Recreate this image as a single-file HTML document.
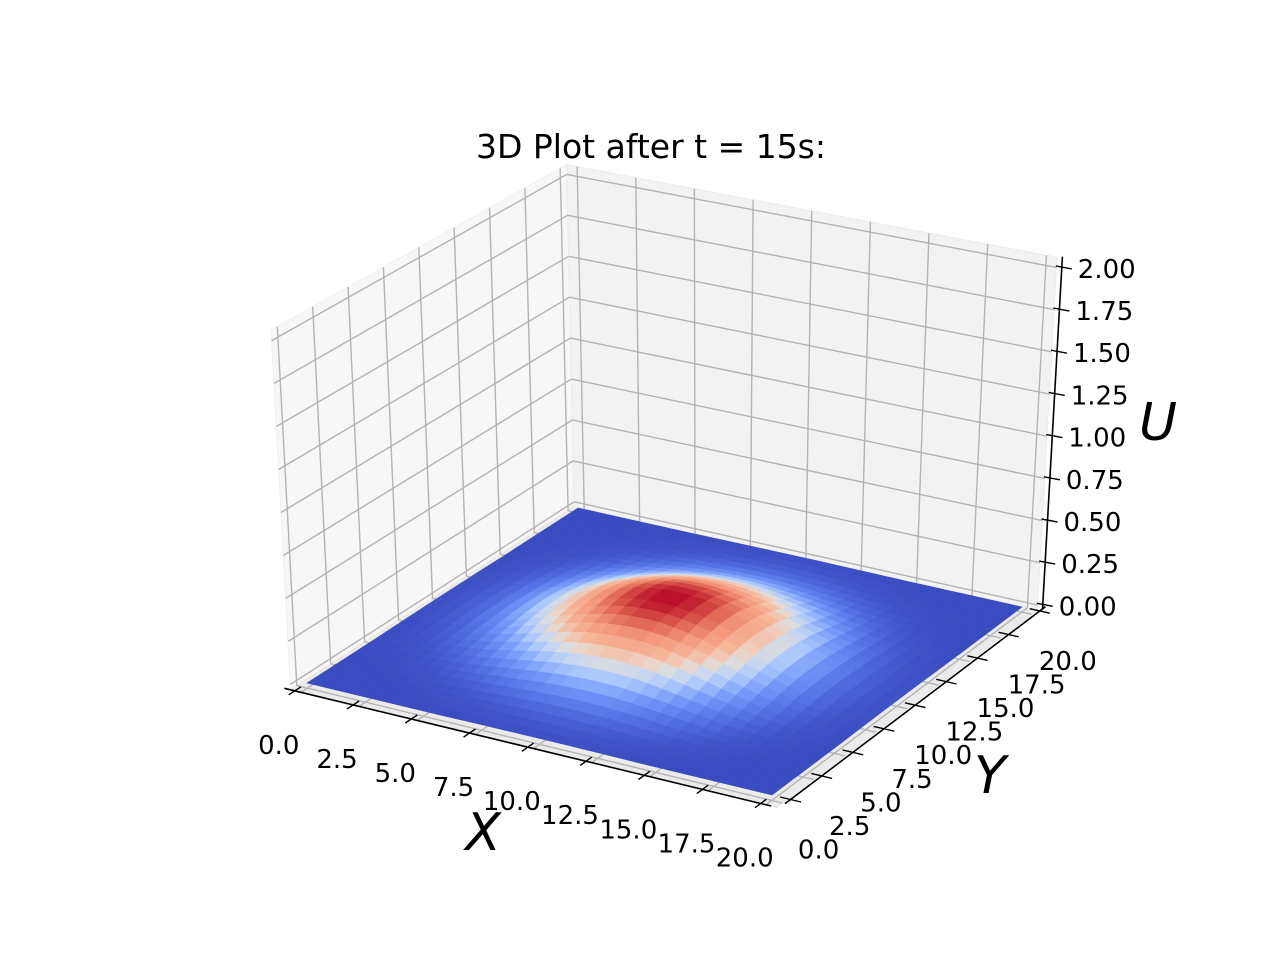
<!DOCTYPE html>
<html><head><meta charset="utf-8"><style>
html,body{margin:0;padding:0;background:#fff;}
svg{display:block;font-family:"DejaVu Sans","Liberation Sans",sans-serif;}
</style></head><body>
<svg id="chart" width="1280" height="960" viewBox="0 0 1280 960" xmlns="http://www.w3.org/2000/svg">
<rect width="1280" height="960" fill="#fff"/>
<g id="panes"></g>
<g id="grid"></g>
<g id="surf"></g>
<g id="axes"></g>
<text x="651" y="158" font-size="33" text-anchor="middle">3D Plot after t = 15s:</text>
<text x="483" y="850" font-size="52" font-style="italic" text-anchor="middle">X</text>
<text x="990" y="793" font-size="52" font-style="italic" text-anchor="middle">Y</text>
<text x="1158" y="440" font-size="52" font-style="italic" text-anchor="middle">U</text>
</svg>
<script>
// ---- data ----
const xTicks = [0, 2.5, 5, 7.5, 10, 12.5, 15, 17.5, 20];
const yTicks = [0, 2.5, 5, 7.5, 10, 12.5, 15, 17.5, 20];
const zTicks = [0, 0.25, 0.5, 0.75, 1.0, 1.25, 1.5, 1.75, 2.0];
const xTickLabels = ["0.0","2.5","5.0","7.5","10.0","12.5","15.0","17.5","20.0"];
const yTickLabels = ["0.0","2.5","5.0","7.5","10.0","12.5","15.0","17.5","20.0"];
const zTickLabels = ["0.00","0.25","0.50","0.75","1.00","1.25","1.50","1.75","2.00"];
// radial profile of U (value at distance r = 0,1,2,... from the bump centre)
const profileRadius = [0, 1, 2, 3, 4, 5, 6, 7, 8, 9, 10, 11];
const profileU = [0.30, 0.29, 0.265, 0.225, 0.18, 0.13, 0.085, 0.05, 0.025, 0.01, 0.003, 0];
const bumpCenter = [10, 10];
const gridStep = 0.625;
const domain = [0, 20];

// ---- projection ----
const C00=[307,683], C10=[772,795], C11=[1022,607], C01=[578,508];
const Z00=[-9,-172], Z10=[5,-183], Z11=[9,-169], Z01=[-3.5,-164];
function bil(a,b,c,d,u,v,i){return a[i]*(1-u)*(1-v)+b[i]*u*(1-v)+c[i]*u*v+d[i]*(1-u)*v;}
function proj(x,y,z){
  const u=x/20, v=y/20;
  return [bil(C00,C10,C11,C01,u,v,0)+z*bil(Z00,Z10,Z11,Z01,u,v,0),
          bil(C00,C10,C11,C01,u,v,1)+z*bil(Z00,Z10,Z11,Z01,u,v,1)];
}
const NS="http://www.w3.org/2000/svg";
function el(tag,attrs,parent){const e=document.createElementNS(NS,tag);for(const k in attrs)e.setAttribute(k,attrs[k]);parent.appendChild(e);return e;}
function pts(list){return list.map(p=>{const q=proj(p[0],p[1],p[2]);return q[0].toFixed(1)+","+q[1].toFixed(1);}).join(" ");}

const lo=-0.45, hi=20.45, zlo=-0.03, zhi=2.06;
const panes=document.getElementById('panes');
let p;
p=el('polygon',{points:pts([[lo,lo,zlo],[lo,hi,zlo],[lo,hi,zhi],[lo,lo,zhi]]),fill:'#f7f7f7',stroke:'#f0f0f0'},panes);


p=el('polygon',{points:pts([[lo,hi,zlo],[hi,hi,zlo],[hi,hi,zhi],[lo,hi,zhi]]),fill:'#f2f2f2',stroke:'#ebebeb'},panes);


p=el('polygon',{points:pts([[lo,lo,zlo],[hi,lo,zlo],[hi,hi,zlo],[lo,hi,zlo]]),fill:'#ebebeb',stroke:'#e6e6e6'},panes);



const grid=document.getElementById('grid');
function gl(a,b,name){const l=el('polyline',{points:pts([a,b]),stroke:'#b3b3b3','stroke-width':1.4,fill:'none'},grid);
  
  }
xTicks.forEach(x=>{gl([x,hi,zlo],[x,hi,zhi],'back-grid-x');gl([x,lo,zlo],[x,hi,zlo],'floor-grid-x');});
yTicks.forEach(y=>{gl([lo,y,zlo],[lo,y,zhi],'left-grid-y');gl([lo,y,zlo],[hi,y,zlo],'floor-grid-y');});
zTicks.forEach(z=>{gl([lo,lo,z],[lo,hi,z],'left-grid-z');gl([lo,hi,z],[hi,hi,z],'back-grid-z');});

// ---- surface ----
function uAt(x,y){
  const r=Math.hypot(x-bumpCenter[0],y-bumpCenter[1]);
  for(let i=0;i<profileRadius.length-1;i++){
    if(r<=profileRadius[i+1]){const t=(r-profileRadius[i])/(profileRadius[i+1]-profileRadius[i]);return profileU[i]+(profileU[i+1]-profileU[i])*t;}
  }
  return profileU[profileU.length-1];
}
const cmStops=[[0,59,76,192],[0.125,85,114,227],[0.25,118,152,250],[0.375,170,199,253],[0.45,201,215,240],[0.5,221,220,219],[0.55,236,211,197],[0.625,246,183,156],[0.75,244,154,123],[0.875,222,96,77],[1,180,4,38]];
function cmap(t){t=Math.max(0,Math.min(1,t));
  for(let i=0;i<cmStops.length-1;i++){const a=cmStops[i],b=cmStops[i+1];
    if(t<=b[0]){const f=(t-a[0])/(b[0]-a[0]);return 'rgb('+[1,2,3].map(k=>Math.round(a[k]+(b[k]-a[k])*f)).join(',')+')';}}
  return 'rgb(180,4,38)';}
const n=Math.round((domain[1]-domain[0])/gridStep);
const U=[];let umin=Infinity,umax=-Infinity;
for(let i=0;i<=n;i++){U.push([]);for(let j=0;j<=n;j++){const v=uAt(domain[0]+i*gridStep,domain[0]+j*gridStep);U[i].push(v);umin=Math.min(umin,v);umax=Math.max(umax,v);}}
const cells=[];
for(let i=0;i<n;i++)for(let j=0;j<n;j++){
  const x0=domain[0]+i*gridStep,y0=domain[0]+j*gridStep,x1=x0+gridStep,y1=y0+gridStep;
  const zs=[U[i][j],U[i+1][j],U[i+1][j+1],U[i][j+1]];
  const zm=(zs[0]+zs[1]+zs[2]+zs[3])/4;
  const cx=(x0+x1)/2,cy=(y0+y1)/2;
  cells.push({q:[[x0,y0,zs[0]],[x1,y0,zs[1]],[x1,y1,zs[2]],[x0,y1,zs[3]]],zm:zm,d:0.5*cx-0.866*cy});
}
cells.sort((a,b)=>a.d-b.d);
const surf=document.getElementById('surf');
cells.forEach(c=>{const col=cmap((c.zm-umin)/(umax-umin||1));
  const f=el('polygon',{points:pts(c.q),fill:col,stroke:col,'stroke-width':0.6,'stroke-linejoin':'round'},surf);
  
  });

// ---- axes ----
const axes=document.getElementById('axes');
function line(a,b,name,w){const l=el('polyline',{points:pts([a,b]),stroke:'#000','stroke-width':w||1.6,fill:'none'},axes);
  
  }
function txt(x,y,s,anchor,name){const t=el('text',{x:x.toFixed(1),y:y.toFixed(1),'font-size':26,'text-anchor':anchor,'dominant-baseline':'central'},axes);t.textContent=s;
  
  }
const xa=-0.9, ya=20.8, zx=20.6, zy=20.6;
line([lo,xa,0],[hi,xa,0],'x-axis-line');
xTicks.forEach((x,i)=>{line([x,xa+0.45,0],[x,xa-0.45,0],'x-tick',1.4);const q=proj(x,xa,0);txt(q[0]-16,q[1]+55,xTickLabels[i],'middle','x-tick-label');});
line([ya,lo,0],[ya,hi,0],'y-axis-line');
yTicks.forEach((y,i)=>{line([ya-0.45,y,0],[ya+0.45,y,0],'y-tick',1.4);const q=proj(ya,y,0);txt(q[0]+28,q[1]+51,yTickLabels[i],'middle','y-tick-label');});
line([zx,zy,zlo],[zx,zy,zhi],'z-axis-line');
zTicks.forEach((z,i)=>{const q=proj(zx,zy,z);
  const t=el('line',{x1:(q[0]-6).toFixed(1),y1:(q[1]-1).toFixed(1),x2:(q[0]+10).toFixed(1),y2:(q[1]+2).toFixed(1),stroke:'#000','stroke-width':1.4},axes);
  
  
  txt(q[0]+16,q[1]+3,zTickLabels[i],'start','z-tick-label');});
</script>
</body></html>
